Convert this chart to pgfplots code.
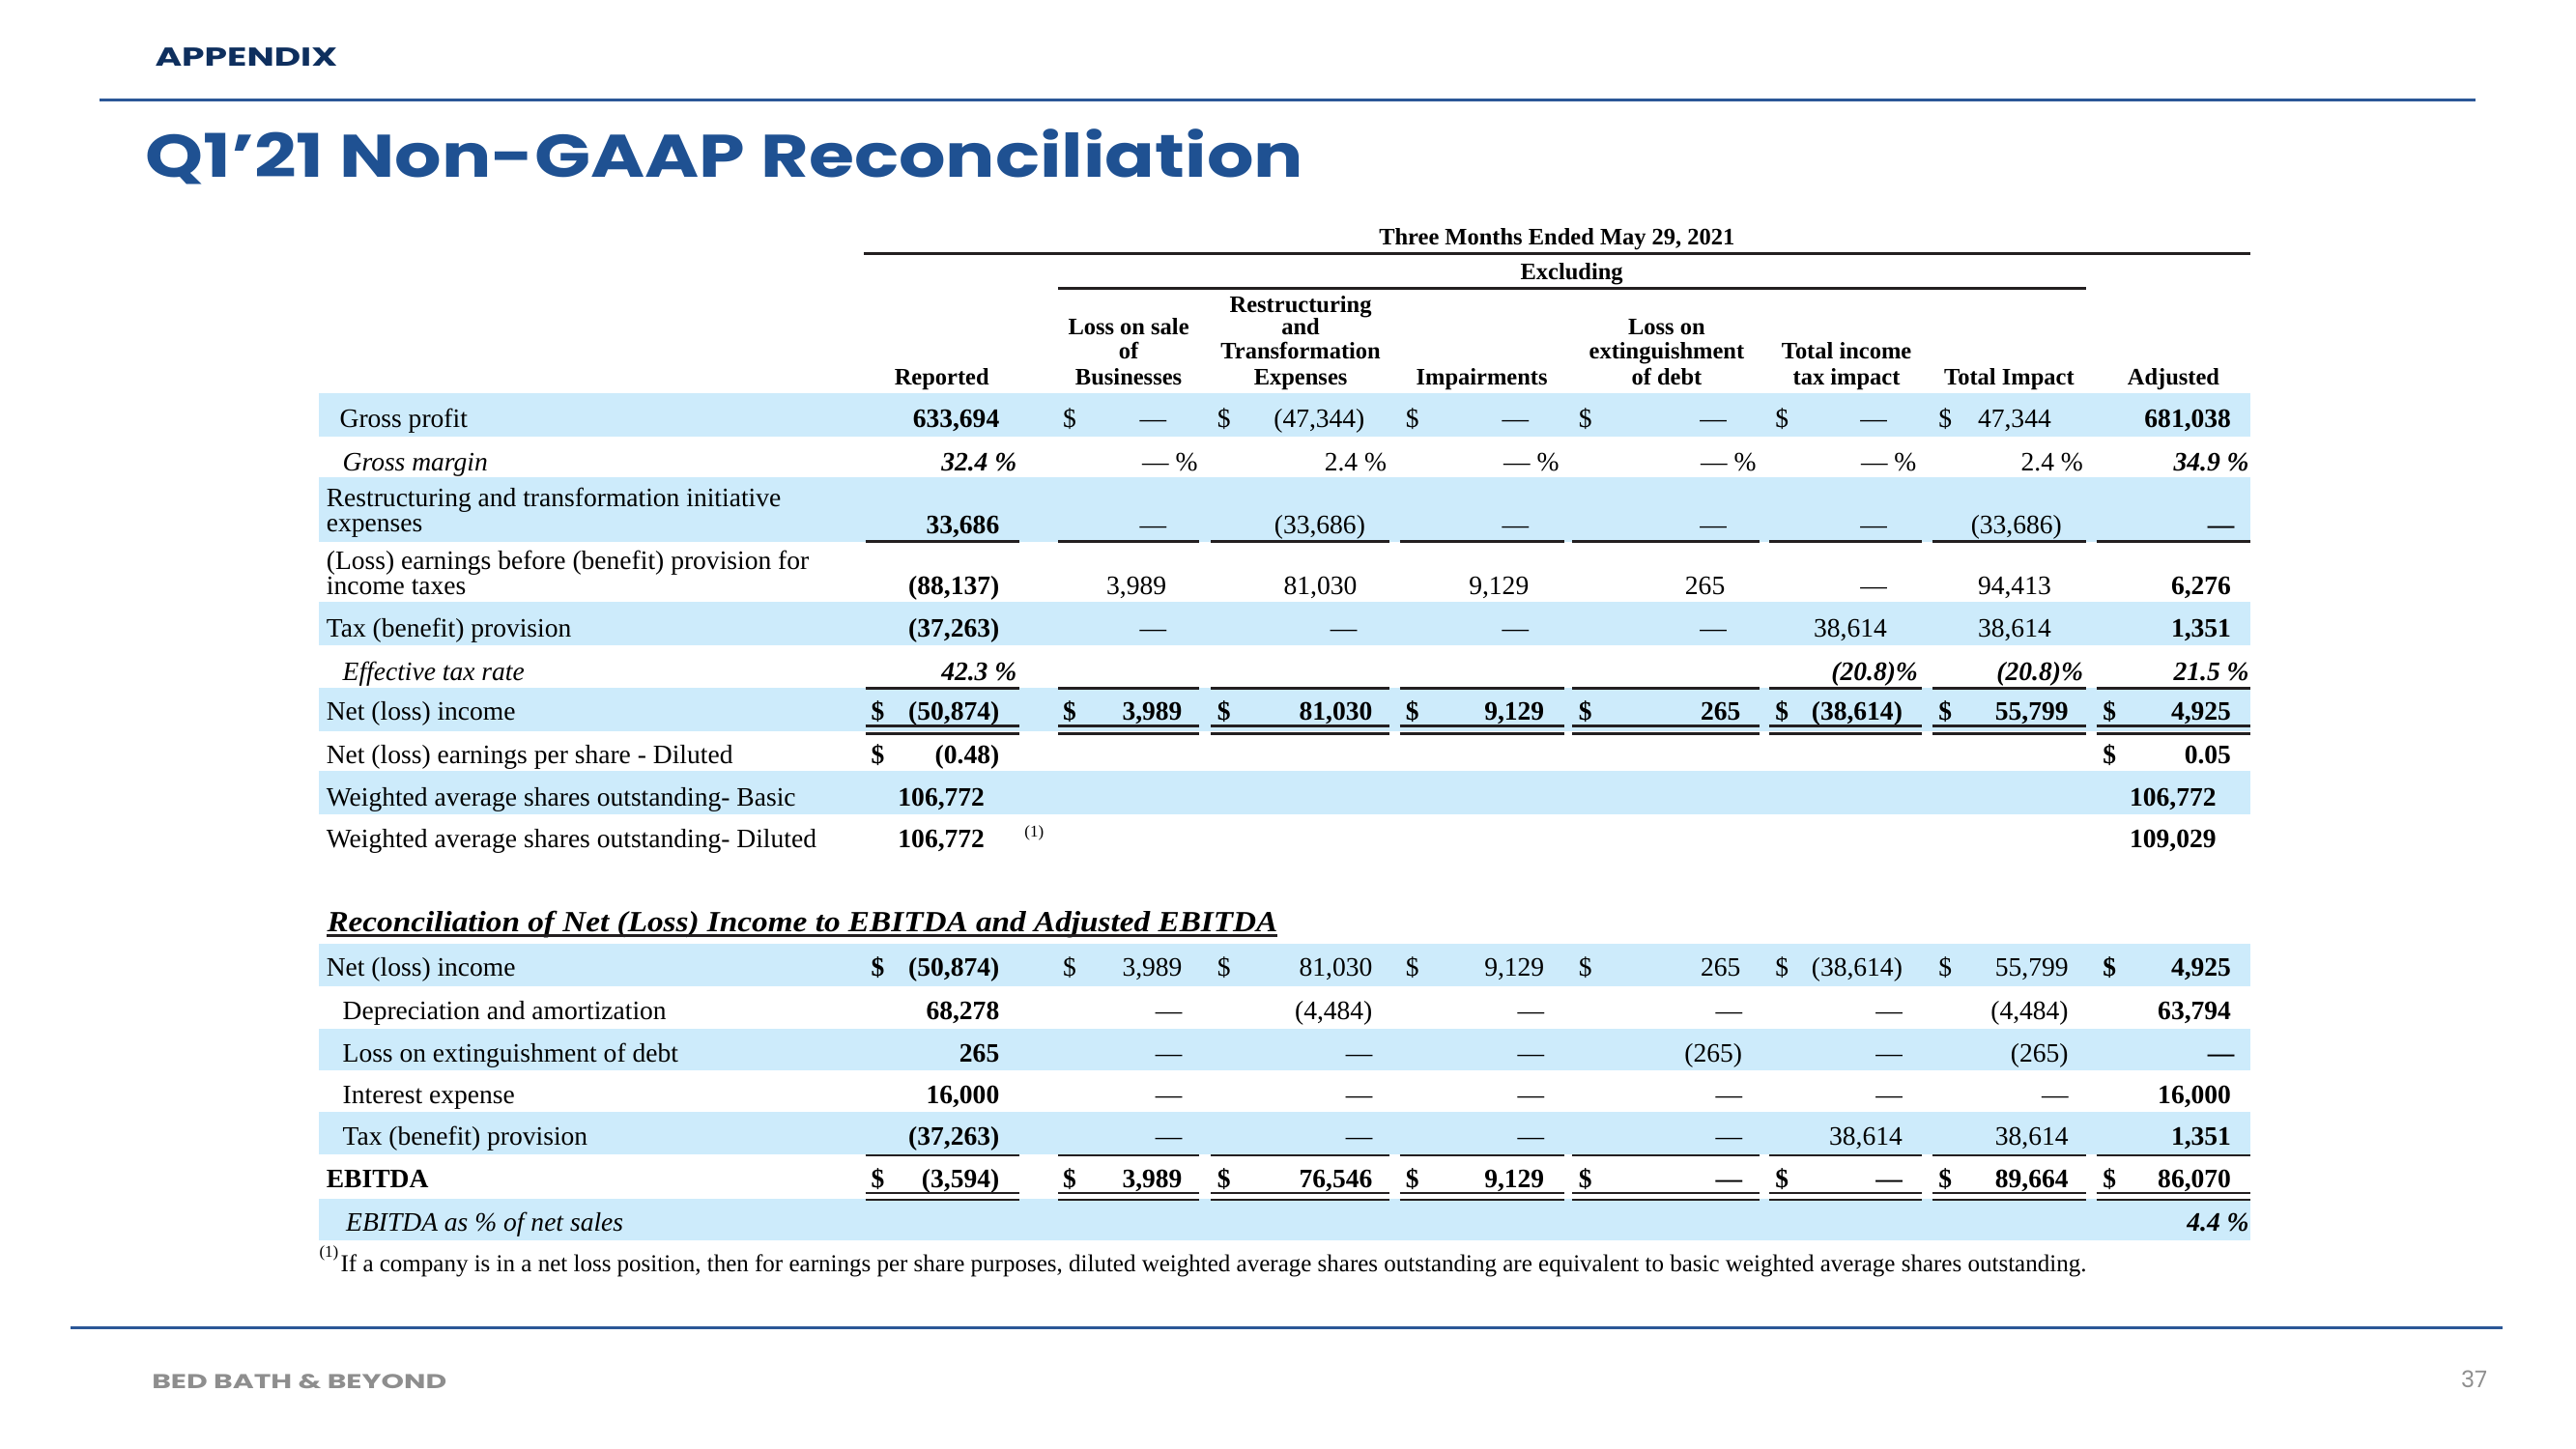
\documentclass[border=0pt]{standalone}
\usepackage{pgfplots}
\pgfplotsset{compat=1.18}
\usepackage{fontspec}
\usepackage{graphicx}
\setmainfont{Liberation Serif}
\newfontfamily\pop{Poppins}
\definecolor{band}{HTML}{CDEBFB}
\definecolor{titleblue}{HTML}{1F5192}
\definecolor{navy}{HTML}{0E2F5E}
\definecolor{topline}{HTML}{2B5797}
\definecolor{footgray}{HTML}{8E8E8E}
\definecolor{rulec}{HTML}{231F20}
\newcommand\fb{\fontsize{8.1}{9.7}\selectfont}
\tikzset{
  cr/.style={anchor=base east, inner sep=0pt, outer sep=0pt, yshift=-2.7pt, font=\fb},
  cl/.style={anchor=base west, inner sep=0pt, outer sep=0pt, yshift=-2.7pt, font=\fb},
  hd/.style={anchor=base, inner sep=0pt, outer sep=0pt, yshift=-2.4pt, font=\fontsize{7.2}{8}\selectfont\bfseries},
}
\newcommand\Rn[3]{\node[cr] at (axis cs:#1,#2) {#3};}
\newcommand\Rb[3]{\node[cr] at (axis cs:#1,#2) {\bfseries #3};}
\newcommand\Rbi[3]{\node[cr] at (axis cs:#1,#2) {\bfseries\itshape #3};}
\newcommand\Ln[3]{\node[cl] at (axis cs:#1,#2) {#3};}
\newcommand\Lb[3]{\node[cl] at (axis cs:#1,#2) {\bfseries #3};}
\newcommand\Li[3]{\node[cl] at (axis cs:#1,#2) {\itshape #3};}
\newcommand\Hd[3]{\node[hd] at (axis cs:#1,#2) {#3};}
\newcommand\band[2]{\fill[band] (axis cs:194,#1) rectangle (axis cs:1370,#2);}
\newcommand\hr[3]{\draw[line width=0.8pt, rulec] (axis cs:#1,#3) -- (axis cs:#2,#3);}
\newcommand\colrules[1]{\hr{526.7}{620.4}{#1}\hr{644.3}{730}{#1}\hr{737}{846}{#1}\hr{852}{952}{#1}\hr{957}{1071}{#1}\hr{1077}{1170}{#1}\hr{1176}{1269.6}{#1}\hr{1276}{1370}{#1}}
\begin{document}
\begin{tikzpicture}
\begin{axis}[
  width=784pt, height=441pt, scale only axis,
  xmin=0, xmax=1568, ymin=0, ymax=882, y dir=reverse,
  hide axis, clip=false]
% bands
\band{239.2}{265.6}
\band{290.5}{329.7}
\band{366.2}{393}
\band{418.5}{445}
\band{469.5}{496}
\band{574.8}{600.3}
\band{626.4}{651.8}
\band{676.7}{702.8}
\band{729.7}{755.1}
% page furniture
\node[anchor=base west, inner sep=0pt, text=navy] at (axis cs:94,40.3) {\resizebox{55.5pt}{\height}{\pop\bfseries\fontsize{7.9}{9}\selectfont APPENDIX}};
\draw[line width=0.8pt, topline] (axis cs:60.4,60.8) -- (axis cs:1507,60.8);
\node[anchor=base west, inner sep=0pt, text=titleblue] at (axis cs:88.2,107.8) {\resizebox{352.4pt}{\height}{\pop\bfseries\fontsize{18.3}{20}\selectfont Q1’21 Non-GAAP Reconciliation}};
\draw[line width=0.8pt, topline] (axis cs:43,808.3) -- (axis cs:1523,808.3);
\node[anchor=base west, inner sep=0pt, text=footgray] at (axis cs:92.1,845.5) {\resizebox{89.7pt}{\height}{\pop\bfseries\fontsize{6.1}{7}\selectfont BED BATH \& BEYOND}};
\node[anchor=base east, inner sep=0pt, text=footgray] at (axis cs:1514.4,845) {\pop\fontsize{7}{8}\selectfont 37};
% headers
\Hd{947.7}{144.1}{Three Months Ended May 29, 2021}
\draw[line width=0.8pt, rulec] (axis cs:526,154.5) -- (axis cs:1370,154.5);
\Hd{956.7}{165.7}{Excluding}
\draw[line width=0.8pt, rulec] (axis cs:644,175.5) -- (axis cs:1269.7,175.5);
\Hd{573.3}{229.4}{Reported}
\Hd{687}{199}{Loss on sale}
\Hd{687}{213.7}{of}
\Hd{687}{229.4}{Businesses}
\Hd{791.7}{185.3}{Restructuring}
\Hd{791.7}{199}{and}
\Hd{791.7}{213.7}{Transformation}
\Hd{791.7}{229.4}{Expenses}
\Hd{902}{229.4}{Impairments}
\Hd{1014.5}{199}{Loss on}
\Hd{1014.5}{213.7}{extinguishment}
\Hd{1014.5}{229.4}{of debt}
\Hd{1124}{213.7}{Total income}
\Hd{1124}{229.4}{tax impact}
\Hd{1223}{229.4}{Total Impact}
\Hd{1323}{229.4}{Adjusted}
% labels section 1
\Ln{206.8}{254.9}{Gross profit}
\Li{208.6}{281.3}{Gross margin}
\Ln{198.7}{302.9}{Restructuring and transformation initiative}
\Ln{198.7}{318.6}{expenses}
\Ln{198.7}{341.1}{(Loss) earnings before (benefit) provision for}
\Ln{198.7}{356.8}{income taxes}
\Ln{198.7}{382.7}{Tax (benefit) provision}
\Li{208.6}{408.7}{Effective tax rate}
\Ln{198.7}{433.2}{Net (loss) income}
\Ln{198.7}{459.7}{Net (loss) earnings per share - Diluted}
\Ln{198.7}{485.2}{Weighted average shares outstanding- Basic}
\Ln{198.7}{510.7}{Weighted average shares outstanding- Diluted}
% Gross profit
\Rb{608.3}{254.9}{633,694}
\Ln{647}{254.9}{\$}\Rn{710}{254.9}{—}
\Ln{741}{254.9}{\$}\Rn{830.7}{254.9}{(47,344)}
\Ln{855.6}{254.9}{\$}\Rn{930.6}{254.9}{—}
\Ln{961}{254.9}{\$}\Rn{1051}{254.9}{—}
\Ln{1080.6}{254.9}{\$}\Rn{1148.6}{254.9}{—}
\Ln{1180}{254.9}{\$}\Rn{1248.5}{254.9}{47,344}
\Rb{1358}{254.9}{681,038}
% Gross margin
\Rbi{618.9}{281.3}{32.4 \%}
\Rn{729}{281.3}{— \%}
\Rn{844}{281.3}{2.4 \%}
\Rn{949}{281.3}{— \%}
\Rn{1069}{281.3}{— \%}
\Rn{1166.5}{281.3}{— \%}
\Rn{1268}{281.3}{2.4 \%}
\Rbi{1369}{281.3}{34.9 \%}
% Restructuring
\Rb{608.3}{319.5}{33,686}
\Rn{710}{319.5}{—}
\Rn{831}{319.5}{(33,686)}
\Rn{930.6}{319.5}{—}
\Rn{1051}{319.5}{—}
\Rn{1148.6}{319.5}{—}
\Rn{1255}{319.5}{(33,686)}
\Rb{1360}{319.5}{—}
\colrules{329.7}
% Loss earnings
\Rb{608.3}{356.8}{(88,137)}
\Rn{710}{356.8}{3,989}
\Rn{826}{356.8}{81,030}
\Rn{930.6}{356.8}{9,129}
\Rn{1050}{356.8}{265}
\Rn{1148.6}{356.8}{—}
\Rn{1248.5}{356.8}{94,413}
\Rb{1358}{356.8}{6,276}
% Tax
\Rb{608.3}{382.7}{(37,263)}
\Rn{710}{382.7}{—}
\Rn{826}{382.7}{—}
\Rn{930.6}{382.7}{—}
\Rn{1051}{382.7}{—}
\Rn{1148.6}{382.7}{38,614}
\Rn{1248.5}{382.7}{38,614}
\Rb{1358}{382.7}{1,351}
% Effective tax rate
\Rbi{618.9}{408.7}{42.3 \%}
\Rbi{1167.4}{408.7}{(20.8)\%}
\Rbi{1268}{408.7}{(20.8)\%}
\Rbi{1369}{408.7}{21.5 \%}
\colrules{419.1}
% Net loss
\Lb{530.3}{433.2}{\$}\Rb{608.3}{433.2}{(50,874)}
\Lb{647}{433.2}{\$}\Rb{719.6}{433.2}{3,989}
\Lb{741}{433.2}{\$}\Rb{835.4}{433.2}{81,030}
\Lb{855.6}{433.2}{\$}\Rb{940}{433.2}{9,129}
\Lb{961}{433.2}{\$}\Rb{1059.5}{433.2}{265}
\Lb{1080.6}{433.2}{\$}\Rb{1158}{433.2}{(38,614)}
\Lb{1180}{433.2}{\$}\Rb{1259}{433.2}{55,799}
\Lb{1280}{433.2}{\$}\Rb{1358}{433.2}{4,925}
\colrules{442.1}
\colrules{446.6}
% EPS
\Lb{530.3}{459.7}{\$}\Rb{608.3}{459.7}{(0.48)}
\Lb{1280}{459.7}{\$}\Rb{1358}{459.7}{0.05}
% shares
\Rb{599.3}{485.2}{106,772}
\Rb{1349}{485.2}{106,772}
\Rb{599.3}{510.7}{106,772}
\node[anchor=base west, inner sep=0pt] at (axis cs:623.3,509.5) {\fontsize{5}{6}\selectfont (1)};
\Rb{1349}{510.7}{109,029}
% section title
\node[anchor=base west, inner sep=0pt] at (axis cs:198.7,567) {\resizebox{289.3pt}{\height}{\fontsize{8.9}{10}\selectfont\bfseries\itshape Reconciliation of Net (Loss) Income to EBITDA and Adjusted EBITDA}};
\draw[line width=0.65pt, rulec] (axis cs:198.7,569.6) -- (axis cs:777.3,569.6);
% EBITDA labels
\Ln{198.7}{589.1}{Net (loss) income}
\Ln{208.6}{615.6}{Depreciation and amortization}
\Ln{208.6}{641.1}{Loss on extinguishment of debt}
\Ln{208.6}{666.5}{Interest expense}
\Ln{208.6}{692}{Tax (benefit) provision}
\Lb{198.7}{717.5}{EBITDA}
\Li{210.7}{744}{EBITDA as \% of net sales}
% Net loss
\Lb{530.3}{589.1}{\$}\Rb{608.3}{589.1}{(50,874)}
\Ln{647}{589.1}{\$}\Rn{719.6}{589.1}{3,989}
\Ln{741}{589.1}{\$}\Rn{835.4}{589.1}{81,030}
\Ln{855.6}{589.1}{\$}\Rn{940}{589.1}{9,129}
\Ln{961}{589.1}{\$}\Rn{1059.5}{589.1}{265}
\Ln{1080.6}{589.1}{\$}\Rn{1158}{589.1}{(38,614)}
\Ln{1180}{589.1}{\$}\Rn{1259}{589.1}{55,799}
\Lb{1280}{589.1}{\$}\Rb{1358}{589.1}{4,925}
% Depreciation
\Rb{608.3}{615.6}{68,278}
\Rn{719.6}{615.6}{—}
\Rn{835.4}{615.6}{(4,484)}
\Rn{940}{615.6}{—}
\Rn{1060.5}{615.6}{—}
\Rn{1158}{615.6}{—}
\Rn{1259}{615.6}{(4,484)}
\Rb{1358}{615.6}{63,794}
% Loss on extinguishment
\Rb{608.3}{641.1}{265}
\Rn{719.6}{641.1}{—}
\Rn{835.4}{641.1}{—}
\Rn{940}{641.1}{—}
\Rn{1060.5}{641.1}{(265)}
\Rn{1158}{641.1}{—}
\Rn{1259}{641.1}{(265)}
\Rb{1360}{641.1}{—}
% Interest
\Rb{608.3}{666.5}{16,000}
\Rn{719.6}{666.5}{—}
\Rn{835.4}{666.5}{—}
\Rn{940}{666.5}{—}
\Rn{1060.5}{666.5}{—}
\Rn{1158}{666.5}{—}
\Rn{1259}{666.5}{—}
\Rb{1358}{666.5}{16,000}
% Tax
\Rb{608.3}{692}{(37,263)}
\Rn{719.6}{692}{—}
\Rn{835.4}{692}{—}
\Rn{940}{692}{—}
\Rn{1060.5}{692}{—}
\Rn{1158}{692}{38,614}
\Rn{1259}{692}{38,614}
\Rb{1358}{692}{1,351}
\colrules{703.4}
% EBITDA
\Lb{530.3}{717.5}{\$}\Rb{608.3}{717.5}{(3,594)}
\Lb{647}{717.5}{\$}\Rb{719.6}{717.5}{3,989}
\Lb{741}{717.5}{\$}\Rb{835.4}{717.5}{76,546}
\Lb{855.6}{717.5}{\$}\Rb{940}{717.5}{9,129}
\Lb{961}{717.5}{\$}\Rb{1060.5}{717.5}{—}
\Lb{1080.6}{717.5}{\$}\Rb{1158}{717.5}{—}
\Lb{1180}{717.5}{\$}\Rb{1259}{717.5}{89,664}
\Lb{1280}{717.5}{\$}\Rb{1358}{717.5}{86,070}
\colrules{726.3}
\colrules{730.4}
\Rbi{1369}{744}{4.4 \%}
% footnote
\node[anchor=base west, inner sep=0pt] at (axis cs:194,765.5) {\fontsize{5}{6}\selectfont (1)};
\node[anchor=base west, inner sep=0pt] at (axis cs:207,774.4) {\resizebox{531.3pt}{\height}{\fontsize{7.4}{8.5}\selectfont If a company is in a net loss position, then for earnings per share purposes, diluted weighted average shares outstanding are equivalent to basic weighted average shares outstanding.}};
\end{axis}
\path (current axis.south west) rectangle (current axis.north east);
\end{tikzpicture}
\end{document}
